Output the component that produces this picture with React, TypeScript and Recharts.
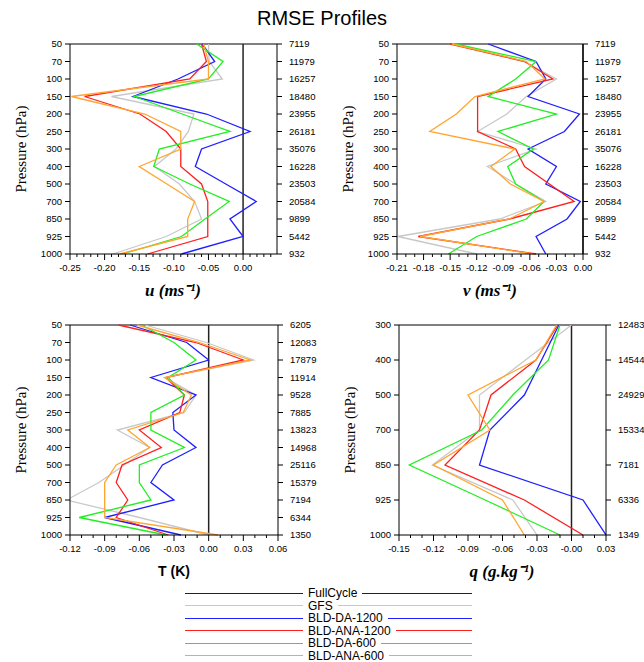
import { LineChart, Line, XAxis, YAxis, ReferenceLine } from "recharts";

// pressure levels and observation counts (right axis)
const UPPER_LEVELS = ["50", "70", "100", "150", "200", "250", "300", "400", "500", "700", "850", "925", "1000"];
const Q_LEVELS = ["300", "400", "500", "700", "850", "925", "1000"];
const WIND_COUNTS = ["7119", "11979", "16257", "18480", "23955", "26181", "35076", "16228", "23503", "20584", "9899", "5442", "932"];
const T_COUNTS = ["6205", "12083", "17879", "11914", "9528", "7885", "13823", "14968", "25116", "15379", "7194", "6344", "1350"];
const Q_COUNTS = ["12483", "14544", "24929", "15334", "7181", "6336", "1349"];

// x ticks
const U_TICKS = [-0.25, -0.2, -0.15, -0.1, -0.05, 0];
const U_TICK_LABELS = ["-0.25", "-0.20", "-0.15", "-0.10", "-0.05", "0.00"];
const V_TICKS = [-0.21, -0.18, -0.15, -0.12, -0.09, -0.06, -0.03, 0];
const V_TICK_LABELS = ["-0.21", "-0.18", "-0.15", "-0.12", "-0.09", "-0.06", "-0.03", "0.00"];
const T_TICKS = [-0.12, -0.09, -0.06, -0.03, 0, 0.03, 0.06];
const T_TICK_LABELS = ["-0.12", "-0.09", "-0.06", "-0.03", "0.00", "0.03", "0.06"];
const Q_TICKS = [-0.15, -0.12, -0.09, -0.06, -0.03, 0, 0.03];
const Q_TICK_LABELS = ["-0.15", "-0.12", "-0.09", "-0.06", "-0.03", "-0.00", "0.03"];

// u RMSE
const U_GFS = [-0.05, -0.049, -0.03, -0.19, -0.071, -0.079, -0.097, -0.128, -0.092, -0.07, -0.06, -0.111, -0.188];
const U_DA1200 = [-0.059, -0.041, -0.094, -0.159, -0.053, 0.01, -0.06, -0.069, -0.025, 0.019, -0.019, 0.0, -0.089];
const U_ANA1200 = [-0.06, -0.053, -0.077, -0.229, -0.149, -0.111, -0.09, -0.09, -0.06, -0.051, -0.051, -0.051, -0.138];
const U_DA600 = [-0.067, -0.029, -0.05, -0.157, -0.088, -0.019, -0.121, -0.129, -0.077, -0.02, -0.055, -0.089, -0.174];
const U_ANA600 = [-0.057, -0.05, -0.05, -0.248, -0.142, -0.09, -0.09, -0.15, -0.11, -0.07, -0.08, -0.08, -0.178];

// v RMSE
const V_GFS = [-0.147, -0.066, -0.03, -0.064, -0.086, -0.119, -0.053, -0.108, -0.076, -0.042, -0.094, -0.209, -0.12];
const V_DA1200 = [-0.107, -0.053, -0.042, -0.062, -0.004, -0.021, -0.062, -0.03, -0.042, -0.003, -0.018, -0.053, -0.042];
const V_ANA1200 = [-0.15, -0.066, -0.034, -0.119, -0.119, -0.119, -0.076, -0.066, -0.038, -0.01, -0.083, -0.186, -0.053];
const V_DA600 = [-0.144, -0.053, -0.076, -0.107, -0.03, -0.096, -0.056, -0.085, -0.076, -0.044, -0.064, -0.12, -0.152];
const V_ANA600 = [-0.148, -0.064, -0.043, -0.122, -0.143, -0.173, -0.077, -0.104, -0.082, -0.044, -0.083, -0.184, -0.056];

// T RMSE
const T_GFS = [-0.055, -0.002, 0.039, -0.038, -0.011, -0.021, -0.079, -0.051, -0.073, -0.095, -0.123, -0.06, 0.0];
const T_DA1200 = [-0.068, -0.019, 0.0, -0.05, -0.011, -0.031, -0.03, -0.011, -0.04, -0.05, -0.03, -0.09, -0.024];
const T_ANA1200 = [-0.078, -0.011, 0.03, -0.037, -0.021, -0.025, -0.06, -0.041, -0.075, -0.08, -0.07, -0.08, -0.035];
const T_DA600 = [-0.058, -0.03, -0.011, -0.035, -0.021, -0.05, -0.05, -0.021, -0.06, -0.06, -0.05, -0.112, -0.037];
const T_ANA600 = [-0.062, -0.008, 0.036, -0.038, -0.015, -0.022, -0.07, -0.051, -0.08, -0.09, -0.09, -0.09, 0.008];

// q RMSE
const Q_GFS = [0.0, -0.04, -0.08, -0.08, -0.121, -0.051, -0.03];
const Q_DA1200 = [-0.011, -0.026, -0.041, -0.071, -0.08, 0.01, 0.03];
const Q_ANA1200 = [-0.012, -0.031, -0.07, -0.08, -0.11, -0.041, 0.01];
const Q_DA600 = [-0.01, -0.02, -0.051, -0.078, -0.141, -0.075, -0.01];
const Q_ANA600 = [-0.013, -0.031, -0.09, -0.071, -0.12, -0.06, -0.041];

const SERIES = [
  { key: "gfs", name: "GFS", color: "#c8c8c8" },
  { key: "da1200", name: "BLD-DA-1200", color: "#1f1fff" },
  { key: "ana1200", name: "BLD-ANA-1200", color: "#ff1f1f" },
  { key: "da600", name: "BLD-DA-600", color: "#22ee22" },
  { key: "ana600", name: "BLD-ANA-600", color: "#ffa530" },
];
const FULL = { name: "FullCycle", color: "#222" };

const SANS = "'Liberation Sans', Arial, Helvetica, sans-serif";
const SERIF = "'Liberation Serif', 'Times New Roman', serif";

function minorTicks(lo: number, hi: number) {
  const out: number[] = [];
  for (let i = Math.round(lo * 100); i <= Math.round(hi * 100); i++) out.push(i / 100);
  return out;
}

const makeXTick = (majors: number[], labels: string[]) => (p: any) => {
  const { x, y, payload } = p;
  const k = majors.findIndex((m) => Math.abs(m - payload.value) < 1e-6);
  if (k < 0) return <line x1={x} x2={x} y1={y} y2={y + 3} stroke="#000" strokeWidth={1} />;
  return (
    <g>
      <line x1={x} x2={x} y1={y} y2={y + 6} stroke="#000" strokeWidth={1} />
      <text x={x} y={y + 17} textAnchor="middle" fontSize={9.5} fontFamily={SANS} fill="#000">
        {labels[k]}
      </text>
    </g>
  );
};

interface PanelProps {
  left: number;
  top: number;
  width: number;
  rightW: number;
  levels: string[];
  counts: string[];
  series: number[][];
  domain: [number, number];
  ticks: number[];
  tickLabels: string[];
  minorMax: number;
}

function Panel(p: PanelProps) {
  const rows = p.levels.map((lv, i) => {
    const r: any = { idx: i, level: lv };
    SERIES.forEach((s, j) => (r[s.key] = p.series[j][i]));
    return r;
  });
  const idxs = p.levels.map((_, i) => i);
  const tickStyle = { fontSize: 9.5, fill: "#000", fontFamily: SANS };
  return (
    <div style={{ position: "absolute", left: p.left, top: p.top }}>
      <LineChart layout="vertical" width={p.width} height={260} data={rows} margin={{ top: 10, right: 0, bottom: 0, left: 0 }}>
        <XAxis
          type="number"
          domain={p.domain}
          allowDataOverflow
          ticks={minorTicks(p.domain[0], p.minorMax)}
          interval={0}
          tickSize={0}
          tickMargin={0}
          tickLine={false}
          tick={makeXTick(p.ticks, p.tickLabels)}
          axisLine={{ stroke: "#000" }}
          height={40}
        />
        <YAxis
          yAxisId="l"
          type="number"
          dataKey="idx"
          domain={[0, p.levels.length - 1]}
          ticks={idxs}
          interval={0}
          tickFormatter={(i: number) => p.levels[i]}
          width={70}
          tickSize={5}
          tickMargin={3}
          tick={tickStyle}
          axisLine={{ stroke: "#000" }}
          tickLine={{ stroke: "#000" }}
        />
        <YAxis
          yAxisId="r"
          orientation="right"
          type="number"
          dataKey="idx"
          domain={[0, p.levels.length - 1]}
          ticks={idxs}
          interval={0}
          tickFormatter={(i: number) => p.counts[i]}
          width={p.rightW}
          tickSize={5}
          tickMargin={7}
          tick={tickStyle}
          axisLine={{ stroke: "#000" }}
          tickLine={{ stroke: "#000" }}
        />
        <ReferenceLine yAxisId="l" y={0} stroke="#000" />
        <ReferenceLine yAxisId="l" x={0} stroke={FULL.color} strokeWidth={1.5} />
        {SERIES.map((s) => (
          <Line
            key={s.key}
            yAxisId="l"
            dataKey={s.key}
            stroke={s.color}
            strokeWidth={1.3}
            dot={false}
            isAnimationActive={false}
          />
        ))}
      </LineChart>
    </div>
  );
}

function Txt({ x, y, children, style }: { x: number; y: number; children: any; style?: any }) {
  return (
    <div
      style={{
        position: "absolute",
        left: x,
        top: y,
        transform: "translate(-50%, -50%)",
        whiteSpace: "nowrap",
        lineHeight: 1,
        ...style,
      }}
    >
      {children}
    </div>
  );
}

function Pressure({ x, y }: { x: number; y: number }) {
  return (
    <Txt x={x} y={y} style={{ transform: "translate(-50%, -50%) rotate(-90deg)", fontFamily: SERIF, fontSize: 15 }}>
      Pressure (hPa)
    </Txt>
  );
}

const axisTitle = { fontFamily: SERIF, fontSize: 17, fontWeight: 700, fontStyle: "italic" as const };

export default function App() {
  const legend = [FULL, ...SERIES];
  return (
    <div
      style={{
        position: "absolute",
        left: 0,
        top: 0,
        width: 644,
        height: 662,
        background: "#fff",
        overflow: "hidden",
        fontFamily: SANS,
        color: "#000",
      }}
    >
      <Txt x={322} y={18} style={{ fontSize: 20 }}>
        RMSE Profiles
      </Txt>

      <Panel
        left={0}
        top={34}
        width={330}
        rightW={53}
        levels={UPPER_LEVELS}
        counts={WIND_COUNTS}
        series={[U_GFS, U_DA1200, U_ANA1200, U_DA600, U_ANA600]}
        domain={[-0.25, 0.049]}
        ticks={U_TICKS}
        tickLabels={U_TICK_LABELS}
        minorMax={0.04}
      />
      <Panel
        left={327}
        top={34}
        width={309}
        rightW={53}
        levels={UPPER_LEVELS}
        counts={WIND_COUNTS}
        series={[V_GFS, V_DA1200, V_ANA1200, V_DA600, V_ANA600]}
        domain={[-0.21, 0]}
        ticks={V_TICKS}
        tickLabels={V_TICK_LABELS}
        minorMax={0}
      />
      <Panel
        left={0}
        top={315}
        width={331}
        rightW={53}
        levels={UPPER_LEVELS}
        counts={T_COUNTS}
        series={[T_GFS, T_DA1200, T_ANA1200, T_DA600, T_ANA600]}
        domain={[-0.12, 0.06]}
        ticks={T_TICKS}
        tickLabels={T_TICK_LABELS}
        minorMax={0.06}
      />
      <Panel
        left={329}
        top={315}
        width={315}
        rightW={38}
        levels={Q_LEVELS}
        counts={Q_COUNTS}
        series={[Q_GFS, Q_DA1200, Q_ANA1200, Q_DA600, Q_ANA600]}
        domain={[-0.15, 0.03]}
        ticks={Q_TICKS}
        tickLabels={Q_TICK_LABELS}
        minorMax={0.03}
      />

      <Pressure x={21} y={149} />
      <Pressure x={348} y={149} />
      <Pressure x={21} y={430} />
      <Pressure x={350} y={430} />

      <Txt x={173} y={290} style={axisTitle}>
        u (ms⁻¹)
      </Txt>
      <Txt x={490} y={290} style={axisTitle}>
        v (ms⁻¹)
      </Txt>
      <Txt x={174} y={571} style={{ fontFamily: SANS, fontSize: 14, fontWeight: 700 }}>
        T (K)
      </Txt>
      <Txt x={502} y={571} style={axisTitle}>
        q (g.kg⁻¹)
      </Txt>

      <div style={{ position: "absolute", left: 185, top: 587, width: 287 }}>
        {legend.map((it) => (
          <div key={it.name} style={{ display: "flex", alignItems: "center", height: 12.5 }}>
            <div style={{ width: 118, borderTop: `1.5px solid ${it.color}` }} />
            <span style={{ padding: "0 5px", fontSize: 12, lineHeight: "12px" }}>{it.name}</span>
            <div style={{ flex: 1, borderTop: `1.5px solid ${it.color}` }} />
          </div>
        ))}
      </div>
    </div>
  );
}
